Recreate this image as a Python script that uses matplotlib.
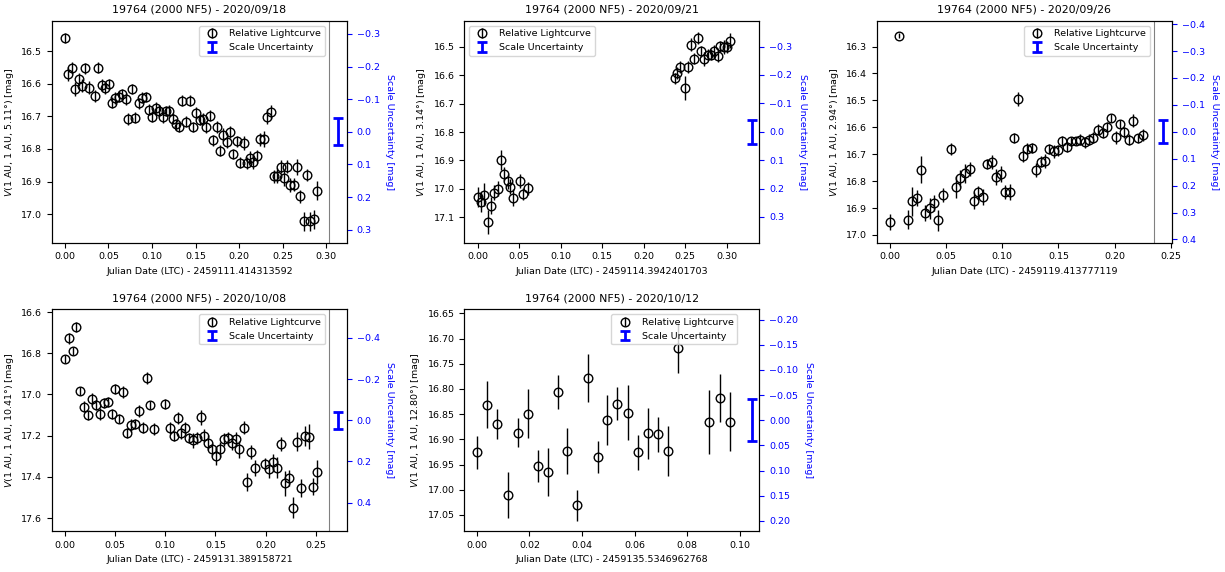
import matplotlib.pyplot as plt

plt.rcParams['font.family'] = 'DejaVu Sans'
plt.rcParams['font.size'] = 6.8

# 2020/09/18
t1 = [0.0000, 0.0038, 0.0077, 0.0115, 0.0161, 0.0192, 0.0234, 0.0272, 0.0349, 0.0383,
      0.0421, 0.0464, 0.0502, 0.0536, 0.0579, 0.0621, 0.0659, 0.0697, 0.0728, 0.0770,
      0.0808, 0.0847, 0.0885, 0.0927, 0.0966, 0.1004, 0.1042, 0.1084, 0.1123, 0.1161,
      0.1199, 0.1238, 0.1272, 0.1310, 0.1349, 0.1391, 0.1433, 0.1471, 0.1510, 0.1548,
      0.1586, 0.1625, 0.1667, 0.1705, 0.1743, 0.1782, 0.1820, 0.1858, 0.1897, 0.1935,
      0.1977, 0.2011, 0.2054, 0.2092, 0.2126, 0.2165, 0.2207, 0.2241, 0.2284, 0.2318,
      0.2364, 0.2402, 0.2441, 0.2479, 0.2513, 0.2552, 0.2590, 0.2628, 0.2667, 0.2705,
      0.2743, 0.2782, 0.2820, 0.2858, 0.2900]
m1 = [16.461, 16.570, 16.551, 16.616, 16.586, 16.606, 16.553, 16.612, 16.637, 16.551,
      16.604, 16.614, 16.602, 16.658, 16.644, 16.640, 16.631, 16.647, 16.708, 16.617,
      16.704, 16.660, 16.643, 16.641, 16.680, 16.701, 16.674, 16.684, 16.703, 16.684,
      16.683, 16.708, 16.724, 16.733, 16.652, 16.717, 16.652, 16.733, 16.691, 16.711,
      16.709, 16.733, 16.698, 16.774, 16.732, 16.805, 16.756, 16.780, 16.749, 16.816,
      16.776, 16.842, 16.782, 16.843, 16.827, 16.841, 16.822, 16.770, 16.770, 16.701,
      16.686, 16.884, 16.882, 16.854, 16.890, 16.854, 16.910, 16.910, 16.856, 16.945,
      17.022, 16.880, 17.022, 17.016, 16.928]
e1 = [0.015, 0.022, 0.018, 0.022, 0.020, 0.020, 0.016, 0.020, 0.018, 0.016,
      0.018, 0.018, 0.016, 0.017, 0.017, 0.016, 0.016, 0.017, 0.018, 0.015,
      0.018, 0.017, 0.016, 0.015, 0.017, 0.018, 0.017, 0.017, 0.018, 0.016,
      0.016, 0.017, 0.017, 0.016, 0.016, 0.017, 0.016, 0.016, 0.018, 0.017,
      0.018, 0.017, 0.017, 0.016, 0.018, 0.017, 0.020, 0.018, 0.018, 0.016,
      0.017, 0.016, 0.020, 0.018, 0.020, 0.020, 0.020, 0.020, 0.025, 0.022,
      0.022, 0.020, 0.022, 0.020, 0.025, 0.020, 0.022, 0.020, 0.025, 0.020,
      0.030, 0.018, 0.030, 0.030, 0.030]

# 2020/09/21
t2 = [0.000, 0.004, 0.008, 0.012, 0.016, 0.020, 0.024, 0.028, 0.032, 0.036,
      0.039, 0.043, 0.051, 0.055, 0.060,
      0.237, 0.240, 0.244, 0.249, 0.253, 0.257, 0.261, 0.265, 0.269, 0.273,
      0.277, 0.281, 0.285, 0.289, 0.292, 0.297, 0.300, 0.304]
m2 = [17.029, 17.046, 17.020, 17.118, 17.060, 17.013, 16.999, 16.898, 16.949, 16.974,
      16.992, 17.032, 16.971, 17.018, 16.998,
      16.611, 16.592, 16.571, 16.646, 16.571, 16.492, 16.542, 16.468, 16.516, 16.542,
      16.527, 16.527, 16.514, 16.532, 16.498, 16.500, 16.500, 16.478]
e2 = [0.035, 0.035, 0.040, 0.042, 0.030, 0.025, 0.025, 0.035, 0.025, 0.025,
      0.025, 0.030, 0.025, 0.022, 0.022,
      0.020, 0.020, 0.020, 0.042, 0.022, 0.022, 0.020, 0.022, 0.020, 0.025,
      0.020, 0.020, 0.020, 0.022, 0.020, 0.025, 0.022, 0.025]

# 2020/09/26
t3 = [0.0000, 0.0080, 0.0157, 0.0193, 0.0240, 0.0273, 0.0309, 0.0356, 0.0389, 0.0430,
      0.0469, 0.0546, 0.0588, 0.0623, 0.0668, 0.0712, 0.0751, 0.0786, 0.0831, 0.0864,
      0.0905, 0.0947, 0.0988, 0.1021, 0.1071, 0.1104, 0.1139, 0.1184, 0.1220, 0.1264,
      0.1303, 0.1341, 0.1383, 0.1415, 0.1457, 0.1499, 0.1534, 0.1576, 0.1614, 0.1656,
      0.1694, 0.1736, 0.1772, 0.1810, 0.1852, 0.1893, 0.1932, 0.1970, 0.2009, 0.2047,
      0.2086, 0.2125, 0.2166, 0.2205, 0.2249]
m3 = [16.951, 16.260, 16.943, 16.875, 16.864, 16.757, 16.917, 16.901, 16.880, 16.946,
      16.851, 16.679, 16.821, 16.790, 16.770, 16.754, 16.872, 16.842, 16.858, 16.736,
      16.728, 16.786, 16.772, 16.841, 16.840, 16.640, 16.494, 16.707, 16.679, 16.677,
      16.758, 16.727, 16.725, 16.680, 16.689, 16.685, 16.652, 16.673, 16.652, 16.651,
      16.646, 16.656, 16.646, 16.638, 16.609, 16.621, 16.599, 16.567, 16.637, 16.588,
      16.619, 16.646, 16.575, 16.641, 16.627]
e3 = [0.030, 0.010, 0.035, 0.055, 0.030, 0.050, 0.030, 0.040, 0.030, 0.040,
      0.025, 0.022, 0.040, 0.030, 0.035, 0.025, 0.030, 0.025, 0.030, 0.020,
      0.025, 0.030, 0.030, 0.025, 0.030, 0.020, 0.025, 0.022, 0.020, 0.018,
      0.025, 0.020, 0.025, 0.018, 0.025, 0.020, 0.018, 0.020, 0.015, 0.015,
      0.020, 0.020, 0.020, 0.020, 0.020, 0.020, 0.018, 0.015, 0.025, 0.015,
      0.020, 0.020, 0.025, 0.018, 0.022]

# 2020/10/08
t4 = [0.0000, 0.0040, 0.0080, 0.0116, 0.0156, 0.0195, 0.0232, 0.0272, 0.0308, 0.0348,
      0.0387, 0.0427, 0.0467, 0.0503, 0.0543, 0.0583, 0.0619, 0.0659, 0.0695, 0.0735,
      0.0775, 0.0815, 0.0854, 0.0891, 0.1003, 0.1046, 0.1083, 0.1123, 0.1162, 0.1202,
      0.1238, 0.1275, 0.1315, 0.1354, 0.1391, 0.1430, 0.1467, 0.1507, 0.1546, 0.1583,
      0.1623, 0.1662, 0.1702, 0.1738, 0.1781, 0.1818, 0.1858, 0.1897, 0.1997, 0.2036,
      0.2076, 0.2116, 0.2156, 0.2192, 0.2232, 0.2272, 0.2311, 0.2351, 0.2387, 0.2430,
      0.2467, 0.2507]
m4 = [16.826, 16.728, 16.787, 16.672, 16.984, 17.059, 17.102, 17.023, 17.050, 17.094,
      17.040, 17.037, 17.096, 16.974, 17.117, 16.989, 17.187, 17.150, 17.145, 17.080,
      17.161, 16.920, 17.050, 17.167, 17.047, 17.163, 17.200, 17.115, 17.189, 17.164,
      17.210, 17.223, 17.211, 17.111, 17.200, 17.234, 17.267, 17.298, 17.267, 17.218,
      17.213, 17.234, 17.216, 17.267, 17.161, 17.424, 17.278, 17.356, 17.337, 17.364,
      17.330, 17.356, 17.241, 17.431, 17.405, 17.550, 17.229, 17.455, 17.202, 17.205,
      17.447, 17.376]
e4 = [0.020, 0.025, 0.020, 0.025, 0.020, 0.025, 0.020, 0.030, 0.025, 0.030,
      0.025, 0.025, 0.025, 0.025, 0.020, 0.030, 0.025, 0.030, 0.025, 0.030,
      0.025, 0.030, 0.020, 0.030, 0.025, 0.030, 0.025, 0.030, 0.025, 0.030,
      0.025, 0.035, 0.030, 0.035, 0.030, 0.035, 0.030, 0.045, 0.035, 0.030,
      0.030, 0.035, 0.035, 0.040, 0.030, 0.045, 0.035, 0.040, 0.030, 0.040,
      0.040, 0.050, 0.035, 0.060, 0.040, 0.050, 0.045, 0.045, 0.050, 0.060,
      0.040, 0.060]

# 2020/10/12
t5 = [0.0000, 0.0039, 0.0078, 0.0117, 0.0155, 0.0193, 0.0231, 0.0269, 0.0307, 0.0344,
      0.0382, 0.0421, 0.0459, 0.0496, 0.0534, 0.0573, 0.0612, 0.0651, 0.0689, 0.0727,
      0.0765, 0.0884, 0.0924, 0.0963]
m5 = [16.926, 16.831, 16.869, 17.010, 16.887, 16.849, 16.953, 16.965, 16.806, 16.923,
      17.031, 16.778, 16.935, 16.862, 16.829, 16.847, 16.926, 16.888, 16.890, 16.923,
      16.718, 16.865, 16.818, 16.865]
e5 = [0.033, 0.047, 0.030, 0.046, 0.029, 0.049, 0.031, 0.047, 0.033, 0.046,
      0.031, 0.048, 0.032, 0.050, 0.032, 0.055, 0.034, 0.051, 0.035, 0.050,
      0.050, 0.064, 0.048, 0.059]

dates = ['2020/09/18', '2020/09/21', '2020/09/26', '2020/10/08', '2020/10/12']
jd0 = ['2459111.414313592', '2459114.3942401703', '2459119.413777119',
       '2459131.389158721', '2459135.5346962768']
phase = ['5.11', '3.14', '2.94', '10.41', '12.80']
scale_unc = 0.042

# layout
xlims = [(-0.0149, 0.324), (-0.0161, 0.3393), (-0.0116, 0.251),
         (-0.0126, 0.2808), (-0.0047, 0.1074)]
ylims = [(16.408, 17.087), (16.409, 17.189), (16.205, 17.028),
         (16.587, 17.663), (16.642, 17.082)]
dividers = [0.3034, 0.3217, 0.235, 0.2625, 0.1018]
show_div = [True, False, True, True, False]
leg_left = [False, True, False, False, False]

nights = [(t1, m1, e1), (t2, m2, e2), (t3, m3, e3), (t4, m4, e4), (t5, m5, e5)]

fig, axes = plt.subplots(2, 3, figsize=(12.25, 5.72), dpi=100)
fig.subplots_adjust(left=0.0424, right=0.9567, top=0.9633, bottom=0.0717,
                    wspace=0.398, hspace=0.302)
axes[1, 2].axis('off')

for i, (t, m, e) in enumerate(nights):
    ax = axes.flat[i]
    ax.errorbar(t, m, yerr=e, fmt='o', mfc='none', mec='k', ms=6.2,
                color='k', ecolor='k', elinewidth=1, label='Relative Lightcurve')
    if show_div[i]:
        ax.axvline(dividers[i], color='grey', lw=0.8)

    ax2 = ax.twinx()
    half = (ylims[i][1] - ylims[i][0]) / 2
    ax2.errorbar([(dividers[i] + xlims[i][1]) / 2], [0], yerr=scale_unc, fmt='none',
                 ecolor='blue', elinewidth=2, capsize=3.5, capthick=2,
                 label='Scale Uncertainty')
    ax2.set_ylim(half, -half)
    ax2.tick_params(axis='y', colors='blue')
    ax2.set_ylabel('Scale Uncertainty [mag]', color='blue', rotation=270, va='bottom')

    ax.set_xlim(xlims[i])
    ax.set_ylim(ylims[i][1], ylims[i][0])
    ax.set_title('19764 (2000 NF5) - ' + dates[i], fontsize=7.9)
    ax.set_xlabel('Julian Date (LTC) - ' + jd0[i])
    ax.set_ylabel('$V$(1 AU, 1 AU, ' + phase[i] + '°) [mag]')

    h1, l1 = ax.get_legend_handles_labels()
    h2, l2 = ax2.get_legend_handles_labels()
    if leg_left[i]:
        ax2.legend(h1 + h2, l1 + l2, loc='upper left')
    else:
        ax2.legend(h1 + h2, l1 + l2, loc='upper right', bbox_to_anchor=(0.941, 1))

plt.savefig('out.png', dpi=100)
